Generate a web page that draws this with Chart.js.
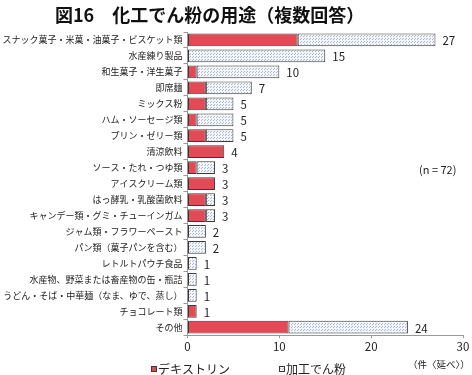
<!DOCTYPE html>
<html>
<head>
<meta charset="utf-8">
<script src="https://cdn.jsdelivr.net/npm/chart.js@4"></script>
<style>
  html, body { margin: 0; padding: 0; background: #fff; }
</style>
</head>
<body>
<canvas id="usageChart" width="472" height="375"></canvas>
<script>
// =================== DATA ===================
const categories = [
	"スナック菓子・米菓・油菓子・ビスケット類",
	"水産練り製品",
	"和生菓子・洋生菓子",
	"即席麺",
	"ミックス粉",
	"ハム・ソーセージ類",
	"プリン・ゼリー類",
	"清涼飲料",
	"ソース・たれ・つゆ類",
	"アイスクリーム類",
	"はっ酵乳・乳酸菌飲料",
	"キャンデー類・グミ・チューインガム",
	"ジャム類・フラワーペースト",
	"パン類（菓子パンを含む）",
	"レトルトパウチ食品",
	"水産物、野菜または畜産物の缶・瓶詰",
	"うどん・そば・中華麺（なま、ゆで、蒸し）",
	"チョコレート類",
	"その他",
];
const dextrin = [12, 0, 1, 2, 2, 1, 2, 4, 1, 3, 2, 2, 0, 0, 0, 0, 0, 1, 11];
const starch = [15, 15, 9, 5, 3, 4, 3, 0, 2, 0, 1, 1, 2, 2, 1, 1, 1, 0, 13];
const totals = [27, 15, 10, 7, 5, 5, 5, 4, 3, 3, 3, 3, 2, 2, 1, 1, 1, 1, 24];
const xTicks = [0, 10, 20, 30];

const FONT = "'Noto Sans CJK JP', 'Noto Sans', sans-serif";

// =================== UTILITY ===================
function makeDotPattern() {
	const c = document.createElement("canvas");
	c.width = 3;
	c.height = 3;
	const g = c.getContext("2d");
	g.fillStyle = "#f3f6fb";
	g.fillRect(0, 0, 3, 3);
	g.fillStyle = "#a9b5c6";
	g.fillRect(0, 0, 1, 1);
	g.fillRect(1, 2, 1, 1);
	return g.createPattern(c, "repeat");
}

// totals at bar ends, legend, loose texts
const extrasPlugin = {
	id: "extras",
	afterDraw(chart) {
		const { ctx, scales } = chart;
		ctx.save();
		ctx.fillStyle = "#222";
		ctx.textBaseline = "middle";
		ctx.font = `11.5px ${FONT}`;
		ctx.textAlign = "left";
		totals.forEach((v, i) => {
			const x = scales.x.getPixelForValue(v);
			const y = scales.y.getPixelForValue(i);
			ctx.fillText(String(v), x + 7, y + 1);
		});

		ctx.font = `bold 18px ${FONT}`;
		ctx.fillStyle = "#111";
		ctx.fillText("図16　化工でん粉の用途（複数回答）", 55, 15);

		ctx.font = `11px ${FONT}`;
		ctx.fillStyle = "#222";
		ctx.fillText("(n = 72)", 419, 170);

		ctx.font = `9.5px ${FONT}`;
		ctx.fillText("（件〈延べ〉）", 408, 364);

		// legend
		const legendPos = [151, 279];
		ctx.font = `12px ${FONT}`;
		chart.data.datasets.forEach((ds, i) => {
			const lx = legendPos[i];
			ctx.fillStyle = ds.backgroundColor;
			ctx.fillRect(lx, 366, 6, 6);
			ctx.strokeStyle = "#3a3a3a";
			ctx.lineWidth = 1;
			ctx.strokeRect(lx + 0.5, 366.5, 5, 5);
			ctx.fillStyle = "#222";
			ctx.fillText(ds.label, lx + 7, 369);
		});
		ctx.restore();
	},
};

// =================== CHART ===================
new Chart(document.getElementById("usageChart"), {
	type: "bar",
	data: {
		labels: categories,
		datasets: [
			{
				label: "デキストリン",
				data: dextrin,
				backgroundColor: "#e34a55",
				borderColor: "#3a3a3a",
				borderWidth: 1,
				borderSkipped: false,
			},
			{
				label: "加工でん粉",
				data: starch,
				backgroundColor: makeDotPattern(),
				borderColor: "#3a3a3a",
				borderWidth: 1,
				borderSkipped: false,
			},
		],
	},
	options: {
		indexAxis: "y",
		responsive: false,
		animation: false,
		barPercentage: 0.8,
		categoryPercentage: 1,
		layout: { padding: { left: 0, right: 9, top: 32, bottom: 19 } },
		plugins: {
			legend: { display: false },
			tooltip: { enabled: false },
		},
		scales: {
			x: {
				stacked: true,
				min: 0,
				max: 30,
				afterBuildTicks: (axis) => {
					axis.ticks = xTicks.map((v) => ({ value: v }));
				},
				grid: { drawOnChartArea: false, color: "#999", tickLength: 3 },
				border: { color: "#999" },
				ticks: { color: "#222", font: { family: FONT, size: 11.5 }, padding: 2 },
			},
			y: {
				stacked: true,
				afterFit: (axis) => {
					axis.width = 187.5;
				},
				grid: { drawOnChartArea: false, color: "#999", tickLength: 4, offset: true },
				border: { color: "#999" },
				ticks: { color: "#222", font: { family: FONT, size: 9 }, padding: 1, autoSkip: false },
			},
		},
	},
	plugins: [extrasPlugin],
});
</script>
</body>
</html>
